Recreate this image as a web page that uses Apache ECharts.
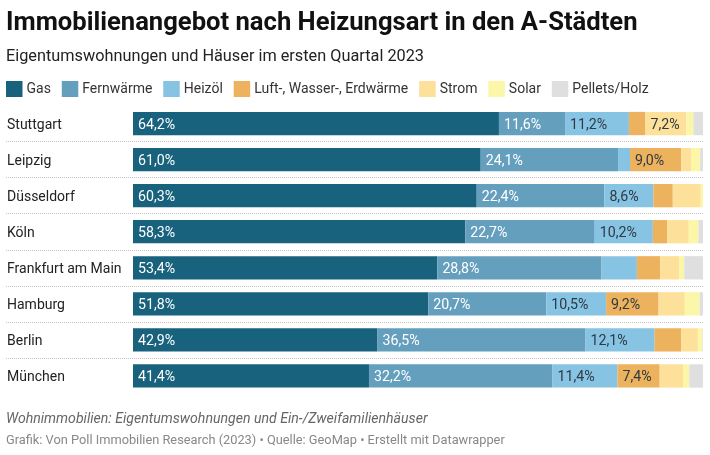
<!DOCTYPE html>
<html><head><meta charset="utf-8">
<style>html,body{margin:0;padding:0;background:#fff}#c{width:710px;height:455px}</style>
<script src="https://cdn.jsdelivr.net/npm/echarts@6/dist/echarts.min.js"></script>
</head><body><div id="c"></div>
<script>
const cities = ['Stuttgart','Leipzig','Düsseldorf','Köln','Frankfurt am Main','Hamburg','Berlin','München'];
const gas = [64.2,61.0,60.3,58.3,53.4,51.8,42.9,41.4];
const fernwaerme = [11.6,24.1,22.4,22.7,28.8,20.7,36.5,32.2];
const heizoel = [11.2,2.1,8.6,10.2,6.2,10.5,12.1,11.4];
const erdwaerme = [2.9,9.0,3.4,2.5,4.1,9.2,4.7,7.4];
const strom = [7.2,1.7,4.9,3.8,3.3,4.6,2.9,4.1];
const solar = [1.2,1.6,0.4,1.7,0.9,2.6,0.8,1.1];
const pellets = [1.7,0.5,0,0.8,3.3,0.6,0.2,2.4];
const font = 'Roboto';
const stack = [
 ['Gas',gas,'#18627e','#fff'],
 ['Fernwärme',fernwaerme,'#659fbe','#fff'],
 ['Heizöl',heizoel,'#87c3e3','#2f3a42'],
 ['Luft-, Wasser-, Erdwärme',erdwaerme,'#ecb25d','#2f3a42'],
 ['Strom',strom,'#fde09a','#2f3a42'],
 ['Solar',solar,'#fbf6a8','#2f3a42'],
 ['Pellets/Holz',pellets,'#dfdfdf','#2f3a42']
];
const chart = echarts.init(document.getElementById('c'),null,{renderer:'canvas'});
chart.setOption({
 animation:false,
 textStyle:{fontFamily:font},
 title:[
  {text:'Immobilienangebot nach Heizungsart in den A-Städten',left:6,top:11,padding:0,textStyle:{fontFamily:font,fontSize:25.6,fontWeight:700,color:'#111'}},
  {text:'Eigentumswohnungen und Häuser im ersten Quartal 2023',left:6,top:49,padding:0,textStyle:{fontFamily:font,fontSize:16.3,fontWeight:400,color:'#222'}},
  {text:'Wohnimmobilien: Eigentumswohnungen und Ein-/Zweifamilienhäuser',left:6,top:412,padding:0,textStyle:{fontFamily:font,fontSize:14.1,fontWeight:400,fontStyle:'italic',color:'#666'}},
  {text:'Grafik: Von Poll Immobilien Research (2023) • Quelle: GeoMap • Erstellt mit Datawrapper',left:6,top:434,padding:0,textStyle:{fontFamily:font,fontSize:12.8,fontWeight:400,color:'#888'}}
 ],
 legend:{left:6,top:81,padding:0,itemWidth:16.5,itemHeight:16,itemGap:10.9,icon:'rect',
  textStyle:{fontFamily:font,fontSize:14,color:'#333',padding:[0,0,0,-1]},
  data:stack.map(s=>s[0])},
 grid:[
  {left:133,right:7,top:105.5,height:288.5},
  {left:6,right:7,top:105.5,height:288.5}
 ],
 xAxis:[
  {type:'value',gridIndex:0,min:0,max:100,show:false},
  {type:'value',gridIndex:1,min:0,max:100,show:false}
 ],
 yAxis:[
  {type:'category',gridIndex:0,inverse:true,data:cities,z:5,
   axisLine:{show:false},axisTick:{show:false},splitLine:{show:false},
   axisLabel:{align:'left',verticalAlign:'top',lineHeight:4,margin:126,fontFamily:font,fontSize:14,color:'#222'}},
  {type:'category',gridIndex:1,inverse:true,data:cities,z:0,
   axisLine:{show:false},axisTick:{show:false},axisLabel:{show:false},
   splitLine:{show:true,showMinLine:false,showMaxLine:false,lineStyle:{type:'dotted',color:'#c4c4c4',width:1}}}
 ],
 series:stack.map(s=>({
  name:s[0],type:'bar',stack:'all',xAxisIndex:0,yAxisIndex:0,barWidth:23.3,
  data:s[1],itemStyle:{color:s[2]},
  label:{show:true,position:'insideLeft',distance:5,offset:[0,1.5],fontFamily:font,fontSize:14.2,color:s[3],
   formatter:p=>p.value>=7?p.value.toFixed(1).replace('.',',')+'%':''}
 }))
});
</script></body></html>
